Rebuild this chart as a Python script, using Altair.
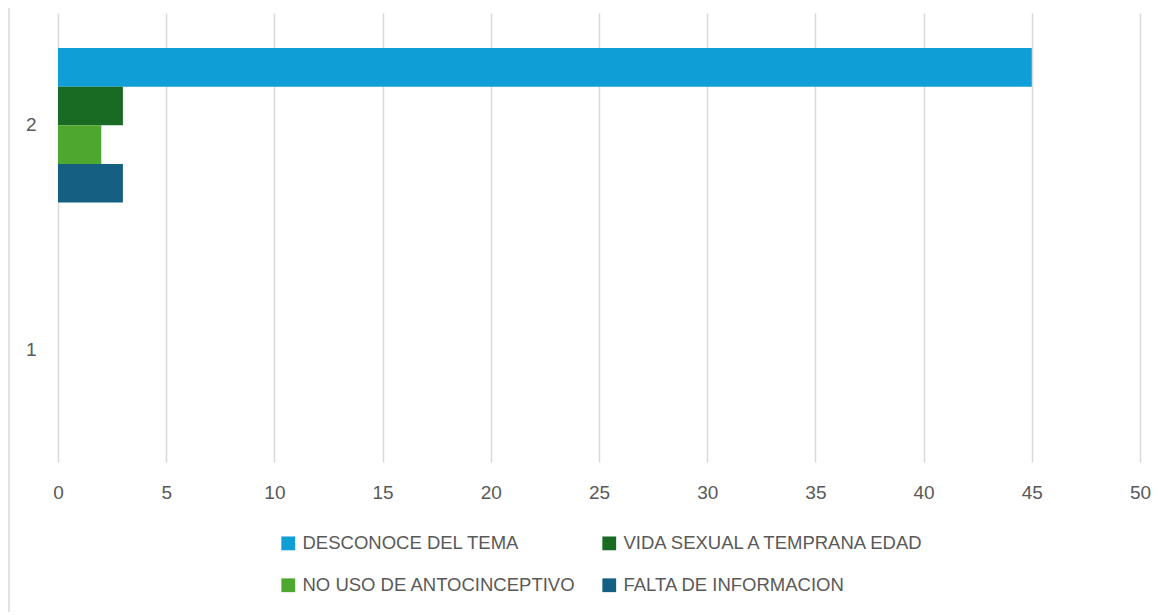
import altair as alt
import pandas as pd

categories = ["1", "2"]
series = ["DESCONOCE DEL TEMA", "VIDA SEXUAL A TEMPRANA EDAD",
          "NO USO DE ANTOCINCEPTIVO", "FALTA DE INFORMACION"]
colors = ["#0F9ED5", "#196B24", "#4EA72E", "#156082"]
values = {
    "DESCONOCE DEL TEMA": [0, 45],
    "VIDA SEXUAL A TEMPRANA EDAD": [0, 3],
    "NO USO DE ANTOCINCEPTIVO": [0, 2],
    "FALTA DE INFORMACION": [0, 3],
}
x_ticks = [0, 5, 10, 15, 20, 25, 30, 35, 40, 45, 50]

rows = []
for s in series:
    for c, v in zip(categories, values[s]):
        rows.append({"cat": c, "serie": s, "valor": v})
df = pd.DataFrame(rows)

FONT = "Liberation Sans"
TXT = "#595959"

bars = alt.Chart(df).mark_bar().encode(
    x=alt.X("valor:Q", scale=alt.Scale(domain=[0, 50], nice=False),
            axis=alt.Axis(values=x_ticks, title=None, grid=True, gridColor="#d9d9d9",
                          gridWidth=1.5, domain=False, ticks=False, labelPadding=21,
                          labelFlush=False,
                          labelFontSize=19, labelColor=TXT, labelFont=FONT)),
    y=alt.Y("cat:N", sort=["2", "1"],
            scale=alt.Scale(paddingInner=0.311, paddingOuter=0.156),
            axis=alt.Axis(title=None, domain=False, ticks=False, labelPadding=22,
                          labelFontSize=19, labelColor=TXT, labelFont=FONT)),
    yOffset=alt.YOffset("serie:N", sort=series, scale=alt.Scale(paddingInner=0, paddingOuter=0)),
    color=alt.Color("serie:N", sort=series,
                    scale=alt.Scale(domain=series, range=colors),
                    legend=alt.Legend(title=None, orient="none", legendX=221, legendY=521,
                                      direction="horizontal",
                                      columns=2, symbolType="square", symbolSize=190,
                                      symbolStrokeWidth=0, labelFontSize=18.5, labelColor=TXT,
                                      labelFont=FONT, labelLimit=400, columnPadding=24,
                                      rowPadding=23, labelOffset=5)),
)

border = alt.Chart(pd.DataFrame({"a": [0]})).mark_rule(color="#d9d9d9", strokeWidth=1.5).encode(
    x=alt.value(-49), y=alt.value(-13), y2=alt.value(602)
)

chart = alt.layer(border, bars).properties(
    width=1082, height=449,
    autosize=alt.AutoSizeParams(type="none"),
    padding={"left": 50, "top": 5, "right": 11, "bottom": 150},
).configure_view(stroke=None)

chart.save("out.html", embed_options={"renderer": "svg", "actions": False})
